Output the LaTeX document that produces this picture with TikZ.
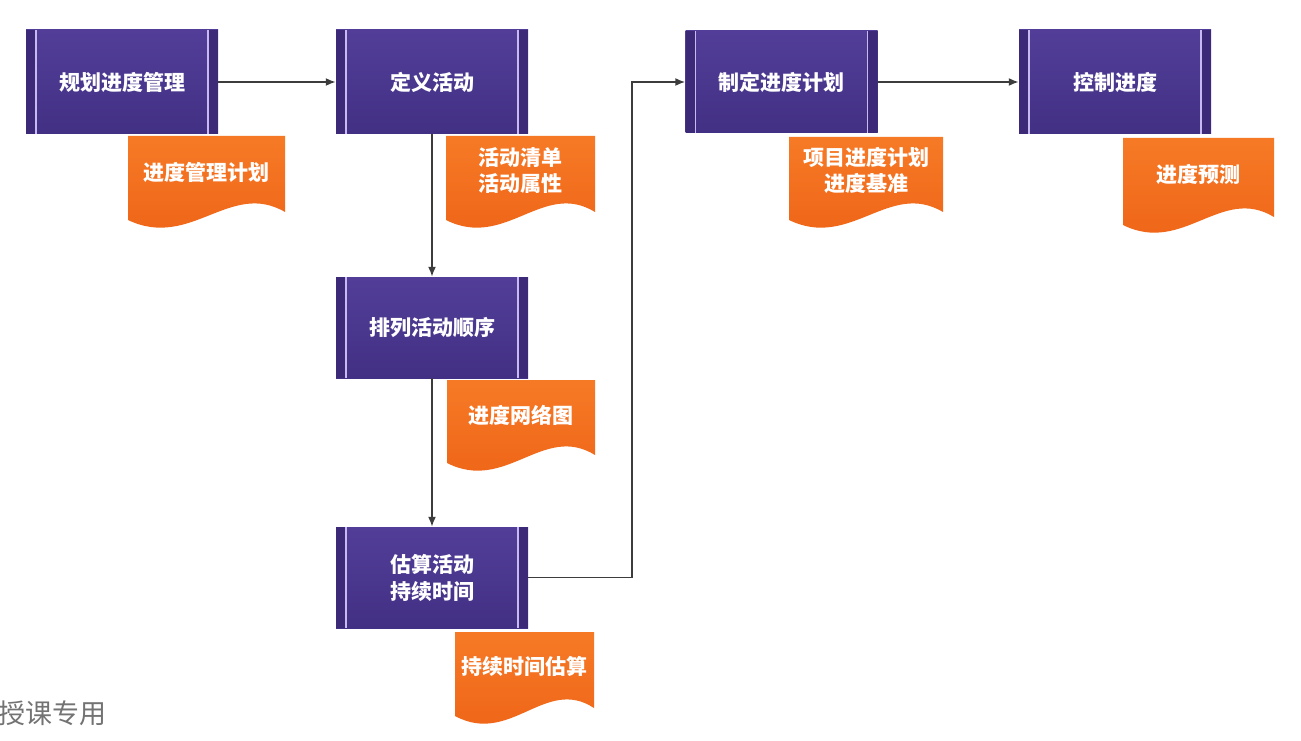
\documentclass[tikz,border=0pt]{standalone}
\usepackage{fontspec}
\newfontfamily\cjk{Noto Sans CJK SC}
\usetikzlibrary{arrows.meta,calc}
\definecolor{pTop}{RGB}{82,62,152}
\definecolor{pBot}{RGB}{66,48,132}
\definecolor{pSide}{RGB}{60,42,120}
\definecolor{pLine}{RGB}{200,185,240}
\definecolor{oTop}{RGB}{246,122,38}
\definecolor{oBot}{RGB}{238,98,22}
\definecolor{arrowgray}{RGB}{60,60,60}
\tikzset{
  procbox/.style={rectangle, minimum width=192pt, minimum height=104pt, inner sep=0pt,
    top color=pTop, bottom color=pBot, text=white, align=center,
    font=\cjk\bfseries\fontsize{21}{27}\selectfont,
    path picture={
      \fill[pSide] (path picture bounding box.north west) rectangle ([xshift=10pt]path picture bounding box.south west);
      \fill[pSide] (path picture bounding box.north east) rectangle ([xshift=-10pt]path picture bounding box.south east);
      \draw[pLine, line width=1.2pt] ([xshift=10pt]path picture bounding box.north west) -- ([xshift=10pt]path picture bounding box.south west);
      \draw[pLine, line width=1.2pt] ([xshift=-10pt]path picture bounding box.north east) -- ([xshift=-10pt]path picture bounding box.south east);
    }},
  doctext/.style={text=white, align=center, inner sep=0pt, font=\cjk\bfseries\fontsize{21}{26}\selectfont},
  docfill/.style={top color=oTop, bottom color=oBot},
  arr/.style={draw=arrowgray, line width=1.8pt, -{Latex[length=10pt,width=8pt]}},
}
\newcommand{\docshape}[4]{%
  \path[docfill] (#1,#2) -- (#3,#2) -- (#3,{#4-8})
    .. controls ({0.35*#1+0.65*#3},{#4-40}) and ({0.6*#1+0.4*#3},{#4+30}) .. (#1,#4) -- cycle;}
\begin{document}
\begin{tikzpicture}[x=1pt,y=-1pt]
\useasboundingbox[fill=white] (0,0) rectangle (1301,741);

% documents (drawn first, under process boxes)
\docshape{128}{136}{285}{220}
\docshape{446}{136}{595}{220}
\docshape{447}{380}{595}{463}
\docshape{455}{632}{594}{716}
\docshape{789}{137}{943}{220}
\docshape{1123}{138}{1274}{225}

\node[doctext] (d1) at (206,172) {进度管理计划};
\node[doctext] (d2) at (520,170) {活动清单\\活动属性};
\node[doctext] (d3) at (521,415) {进度网络图};
\node[doctext] (d4) at (524,666) {持续时间估算};
\node[doctext] (d5) at (866,170) {项目进度计划\\进度基准};
\node[doctext] (d6) at (1198,174) {进度预测};

% process boxes
\node[procbox] (b1) at (122,82) {规划进度管理};
\node[procbox] (b2) at (432,82) {定义活动};
\node[procbox, minimum height=101pt] (b3) at (432,327.5) {排列活动顺序};
\node[procbox, minimum height=101pt] (b4) at (432,577.5) {估算活动\\持续时间};
\node[procbox, minimum height=102pt] (b5) at (781.5,82) {制定进度计划};
\node[procbox, minimum height=104pt] (b6) at (1115,82) {控制进度};

% connectors
\coordinate (turn) at (632,82);
\draw[arr] (b1.east) -- (b2.west);
\draw[arr] (b2.south) -- (b3.north);
\draw[arr] (b3.south) -- (b4.north);
\draw[arr] (b4.east) -| (turn) -- (b5.west);
\draw[arr] (b5.east) -- (b6.west);

% watermark
\node[anchor=west, inner sep=0pt, text=black!55, font=\cjk\fontsize{27}{27}\selectfont] (wm) at (-2,713) {授课专用};
\end{tikzpicture}
\end{document}
